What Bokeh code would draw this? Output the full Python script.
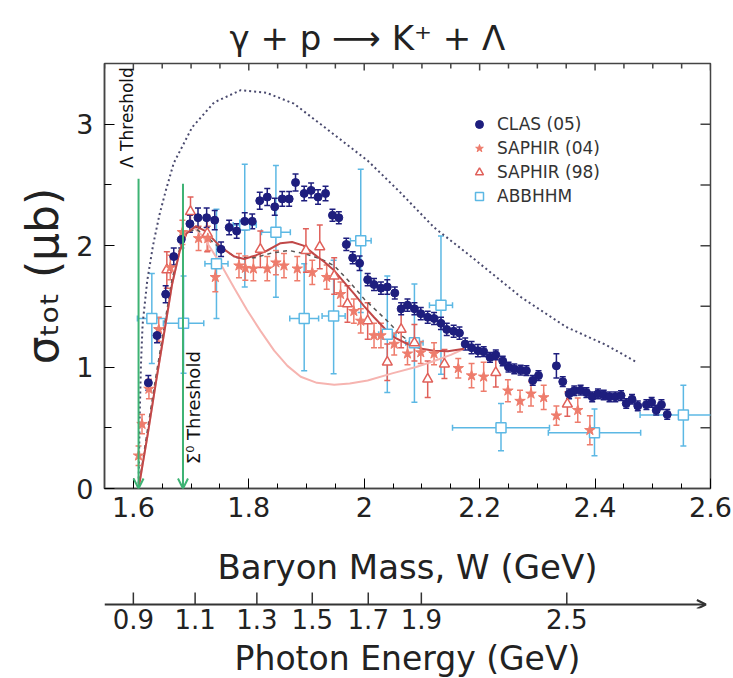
import numpy as np
from bokeh.plotting import figure
from bokeh.layouts import column
from bokeh.models import (Range1d, FixedTicker, ColumnDataSource, Whisker, TeeHead, Arrow, OpenHead)
from bokeh.embed import file_html
from bokeh.resources import INLINE
from bokeh.core.properties import value

FONT = "DejaVu Sans"
TXT = "#222222"

# ---------------- data ----------------
# CLAS (05)
clas_w = [1.626, 1.641, 1.656, 1.670, 1.683, 1.698, 1.712, 1.727, 1.741, 1.752, 1.766, 1.779, 1.793, 1.806,
          1.819, 1.832, 1.845, 1.858, 1.870, 1.881, 1.896, 1.908, 1.920, 1.933, 1.945, 1.956, 1.969, 1.980,
          1.992, 2.006, 2.017, 2.029, 2.040, 2.053, 2.064, 2.075, 2.087, 2.098, 2.110, 2.121, 2.133, 2.143,
          2.155, 2.165, 2.175, 2.186, 2.197, 2.207, 2.218, 2.228, 2.240, 2.250, 2.260, 2.271, 2.281, 2.292,
          2.302, 2.333, 2.344, 2.355, 2.364, 2.375, 2.385, 2.395, 2.405, 2.415, 2.425, 2.435, 2.445, 2.454,
          2.464, 2.474, 2.489, 2.498, 2.506, 2.515, 2.525]
clas_s = [0.87, 1.26, 1.60, 1.91, 2.05, 2.18, 2.23, 2.23, 2.21, 1.97, 2.15, 2.12, 2.20, 2.20,
          2.37, 2.40, 2.32, 2.385, 2.385, 2.52, 2.43, 2.455, 2.40, 2.43, 2.25, 2.23, 2.01, 1.90,
          1.855, 1.72, 1.68, 1.65, 1.66, 1.61, 1.48, 1.51, 1.48, 1.44, 1.41, 1.40, 1.36, 1.31,
          1.295, 1.28, 1.19, 1.16, 1.135, 1.127, 1.08, 1.10, 1.05, 1.00, 0.985, 0.975, 0.97, 0.89,
          0.93, 1.01, 0.88, 0.78, 0.805, 0.81, 0.79, 0.755, 0.78, 0.77, 0.755, 0.755, 0.765, 0.70,
          0.735, 0.68, 0.69, 0.71, 0.645, 0.69, 0.61]
clas_e = [0.06, 0.06, 0.07, 0.07, 0.07, 0.07, 0.08, 0.08, 0.08, 0.06, 0.06, 0.06, 0.07, 0.06,
          0.07, 0.07, 0.07, 0.06, 0.06, 0.07, 0.06, 0.06, 0.06, 0.06, 0.05, 0.05, 0.05, 0.05,
          0.06, 0.05, 0.05, 0.05, 0.06, 0.05, 0.05, 0.05, 0.05, 0.05, 0.05, 0.05, 0.05, 0.05,
          0.05, 0.05, 0.05, 0.05, 0.05, 0.04, 0.04, 0.04, 0.04, 0.04, 0.04, 0.04, 0.04, 0.04,
          0.04, 0.10, 0.04, 0.04, 0.04, 0.04, 0.04, 0.04, 0.04, 0.04, 0.04, 0.04, 0.04, 0.04,
          0.04, 0.04, 0.04, 0.04, 0.04, 0.04, 0.04]

# SAPHIR (04)
s04_w = [1.609, 1.615, 1.627, 1.644, 1.664, 1.685, 1.713, 1.729, 1.742, 1.783, 1.794, 1.808, 1.832, 1.847,
         1.861, 1.884, 1.910, 1.935, 1.959, 1.982, 1.994, 2.017, 2.029, 2.052, 2.075, 2.098, 2.121, 2.163,
         2.186, 2.207, 2.249, 2.270, 2.289, 2.311, 2.333, 2.370, 2.391]
s04_s = [0.27, 0.53, 0.82, 1.31, 1.82, 2.11, 2.06, 2.06, 1.74, 1.835, 1.815, 1.81, 1.81, 1.86,
         1.835, 1.81, 1.78, 1.74, 1.60, 1.46, 1.38, 1.26, 1.26, 1.19, 1.11, 1.12, 1.11, 0.99,
         0.93, 0.92, 0.805, 0.72, 0.78, 0.75, 0.60, 0.645, 0.48]
s04_e = [0.08, 0.08, 0.08, 0.10, 0.10, 0.10, 0.10, 0.10, 0.12, 0.10, 0.10, 0.10, 0.10, 0.10,
         0.10, 0.10, 0.10, 0.10, 0.10, 0.10, 0.10, 0.10, 0.10, 0.09, 0.09, 0.09, 0.09, 0.08,
         0.10, 0.12, 0.09, 0.09, 0.10, 0.10, 0.08, 0.10, 0.12]

# SAPHIR (98)
s98_w = [1.658, 1.699, 1.728, 1.820, 1.899, 1.923, 1.948, 1.971, 2.006, 2.040, 2.064, 2.087, 2.110,
         2.139, 2.228, 2.352]
s98_s = [1.80, 2.28, 2.10, 1.97, 1.96, 1.99, 1.75, 1.52, 1.38, 1.04, 1.31, 1.20, 0.90, 1.025, 0.955, 0.695]
s98_e = [0.15, 0.12, 0.15, 0.15, 0.18, 0.18, 0.15, 0.15, 0.15, 0.15, 0.15, 0.15, 0.15, 0.12, 0.12, 0.10]

# ABBHHM
ab_w = [1.632, 1.687, 1.744, 1.793, 1.847, 1.896, 1.947, 1.994, 2.040, 2.087, 2.133, 2.237, 2.399, 2.553]
ab_s = [1.40, 1.36, 1.85, 2.17, 2.11, 1.40, 1.42, 2.04, 1.27, 1.20, 1.51, 0.50, 0.46, 0.605]
ab_we = [0.025, 0.035, 0.02, 0.02, 0.025, 0.025, 0.02, 0.018, 0.015, 0.015, 0.02, 0.084, 0.08, 0.075]
ab_lo = [1.03, 0.95, 1.40, 1.66, 1.575, 0.97, 0.945, 1.45, 0.79, 0.71, 0.94, 0.31, 0.27, 0.35]
ab_hi = [1.77, 1.75, 2.30, 2.67, 2.66, 1.85, 1.88, 2.63, 1.75, 1.685, 2.08, 0.70, 0.655, 0.85]

# model curves
dot_w = [1.609, 1.611, 1.613, 1.616, 1.624, 1.634, 1.645, 1.656, 1.670, 1.702, 1.740, 1.786, 1.830, 1.878,
         1.930, 2.006, 2.060, 2.121, 2.180, 2.237, 2.272, 2.350, 2.420, 2.472]
dot_s = [0.0, 0.6, 1.0, 1.35, 1.71, 2.0, 2.25, 2.45, 2.68, 2.976, 3.18, 3.28, 3.26, 3.17,
         2.98, 2.70, 2.45, 2.15, 1.93, 1.71, 1.575, 1.33, 1.18, 1.04]

red_w = [1.609, 1.625, 1.640, 1.655, 1.667, 1.680, 1.692, 1.708, 1.725, 1.751, 1.775, 1.792, 1.812, 1.832,
         1.855, 1.875, 1.895, 1.913, 1.930, 1.948, 1.965, 1.983, 2.000, 2.017, 2.035, 2.052, 2.075, 2.100,
         2.121, 2.145, 2.173]
red_s = [0.0, 0.45, 0.90, 1.33, 1.68, 1.95, 2.10, 2.16, 2.12, 1.99, 1.91, 1.89, 1.92, 1.96,
         2.02, 2.03, 2.00, 1.93, 1.87, 1.795, 1.70, 1.60, 1.50, 1.41, 1.32, 1.245, 1.19, 1.15,
         1.135, 1.13, 1.15]

pink_w = [1.609, 1.625, 1.640, 1.655, 1.667, 1.680, 1.692, 1.705, 1.720, 1.735, 1.751, 1.775, 1.797, 1.820,
          1.844, 1.867, 1.890, 1.918, 1.948, 1.975, 2.006, 2.050, 2.090, 2.121, 2.150, 2.173]
pink_s = [0.0, 0.45, 0.90, 1.33, 1.68, 1.95, 2.10, 2.15, 2.08, 1.97, 1.85, 1.65, 1.47, 1.30,
          1.135, 1.01, 0.92, 0.87, 0.855, 0.865, 0.89, 0.95, 1.00, 1.05, 1.10, 1.15]

dash_w = [1.609, 1.625, 1.640, 1.655, 1.667, 1.680, 1.692, 1.708, 1.725, 1.750, 1.780, 1.810, 1.840, 1.870,
          1.900, 1.925, 1.948, 1.975, 2.000, 2.020, 2.040, 2.064, 2.085]
dash_s = [0.0, 0.50, 0.95, 1.38, 1.72, 1.97, 2.10, 2.14, 2.08, 1.98, 1.90, 1.90, 1.94, 1.96,
          1.93, 1.89, 1.835, 1.70, 1.56, 1.47, 1.38, 1.26, 1.19]

# thresholds
thr_w = [1.609, 1.686]
thr_top = [2.55, 2.51]
thr_label = ["Λ Threshold", "Σ⁰ Threshold"]
thr_label_w = [1.5895, 1.705]
thr_label_s = [2.64, 0.20]
thr_label_size = ["17px", "18px"]

# axes
x_ticks = [1.6, 1.8, 2.0, 2.2, 2.4, 2.6]
x_labels = ["1.6", "1.8", "2", "2.2", "2.4", "2.6"]
x_minor = [1.55, 1.65, 1.7, 1.75, 1.85, 1.9, 1.95, 2.05, 2.1, 2.15, 2.25, 2.3, 2.35, 2.45, 2.5, 2.55]
y_ticks = [0, 1, 2, 3]
y_minor = [0.5, 1.5, 2.5]
y_all = [0.5, 1, 1.5, 2, 2.5, 3]
photon_w = [1.600, 1.707, 1.814, 1.910, 2.007, 2.099, 2.351]
photon_labels = ["0.9", "1.1", "1.3", "1.5", "1.7", "1.9", "2.5"]

# ---------------- main figure ----------------
p = figure(frame_width=606, frame_height=425, min_border_left=104, min_border_right=23,
           min_border_top=63, min_border_bottom=100,
           x_range=Range1d(1.55, 2.6), y_range=Range1d(0, 3.5),
           output_backend="svg", toolbar_location=None)
p.grid.visible = False
p.outline_line_color = "#444444"
p.outline_line_width = 1.5
p.background_fill_color = "white"
p.border_fill_color = "white"

p.title.text = "γ + p ⟶ K⁺ + Λ"
p.title.text_font = FONT
p.title.text_font_size = "34px"
p.title.text_font_style = "normal"
p.title.text_color = TXT
p.title.align = "left"
p.title.offset = 125
p.title.standoff = 12

xa = p.xaxis[0]
xa.ticker = FixedTicker(ticks=x_ticks, minor_ticks=x_minor)
xa.major_label_overrides = dict(zip(x_ticks, x_labels))
xa.major_tick_in, xa.major_tick_out = 10, 0
xa.minor_tick_in, xa.minor_tick_out = 5, 0
xa.major_label_text_font = FONT
xa.major_label_text_font_size = "27px"
xa.major_label_text_color = TXT
xa.major_label_standoff = 8
xa.axis_line_color = "#444444"
xa.axis_line_width = 1.5
xa.axis_label = "Baryon Mass, W (GeV)"
xa.axis_label_text_font = FONT
xa.axis_label_text_font_size = "34px"
xa.axis_label_text_font_style = "normal"
xa.axis_label_text_color = TXT
xa.axis_label_standoff = 27

ya = p.yaxis[0]
ya.ticker = FixedTicker(ticks=y_ticks, minor_ticks=y_minor)
ya.major_tick_in, ya.major_tick_out = 10, 0
ya.minor_tick_in, ya.minor_tick_out = 7, 0
ya.major_label_text_font = FONT
ya.major_label_text_font_size = "27px"
ya.major_label_text_color = TXT
ya.major_label_standoff = 11
ya.axis_line_color = "#444444"
ya.axis_line_width = 1.5
ya.axis_label = "σₜₒₜ (μb)"
ya.axis_label_text_font = FONT
ya.axis_label_text_font_size = "44px"
ya.axis_label_text_font_style = "normal"
ya.axis_label_text_color = TXT
ya.axis_label_standoff = 5

# mirrored tick marks on the top and right frame edges
p.ray(x=x_ticks, y=[3.5] * len(x_ticks), length=7, length_units="screen", angle=-np.pi / 2,
      line_color="#444444", line_width=1.5)
p.ray(x=x_minor, y=[3.5] * len(x_minor), length=5, length_units="screen", angle=-np.pi / 2,
      line_color="#444444", line_width=1.5)
p.ray(x=[2.6] * len(y_all), y=y_all, length=10, length_units="screen", angle=np.pi,
      line_color="#444444", line_width=1.5)

# ---------------- curves ----------------
p.line(pink_w, pink_s, line_color="#f6b4b0", line_width=2)
p.line(dot_w, dot_s, line_color="#4a4a6e", line_width=2, line_dash="2 3")
p.line(dash_w, dash_s, line_color="#555555", line_width=1.5, line_dash="4 4")
p.line(red_w, red_s, line_color="#c04848", line_width=2)

# thresholds
GREEN = "#3db374"
thr_src = ColumnDataSource(dict(w=thr_w, top=thr_top, bot=[0.0, 0.0]))
p.add_layout(Arrow(x_start="w", y_start="top", x_end="w", y_end="bot", source=thr_src,
                   line_color=GREEN, line_width=2,
                   end=OpenHead(size=10, line_color=GREEN, line_width=2)))
p.text(x=thr_label_w, y=thr_label_s, text=thr_label, angle=np.pi / 2, text_font=value(FONT),
       text_font_size=thr_label_size, text_align="left", text_baseline="middle", text_color="#111111")

# ---------------- data points ----------------
def vbars(w, lo, hi, color, size=6):
    src = ColumnDataSource(dict(x=w, lo=lo, hi=hi))
    wk = Whisker(source=src, base="x", lower="lo", upper="hi", line_color=color, line_width=1.5,
                 upper_head=TeeHead(size=size, line_color=color, line_width=1.5),
                 lower_head=TeeHead(size=size, line_color=color, line_width=1.5), level="underlay")
    p.add_layout(wk)

def hbars(y, lo, hi, color, size=6):
    src = ColumnDataSource(dict(y=y, lo=lo, hi=hi))
    wk = Whisker(source=src, base="y", lower="lo", upper="hi", dimension="width", line_color=color,
                 line_width=1.5,
                 upper_head=TeeHead(size=size, line_color=color, line_width=1.5),
                 lower_head=TeeHead(size=size, line_color=color, line_width=1.5), level="underlay")
    p.add_layout(wk)

AB = "#5cb8e4"
S98 = "#e0605a"
S04 = "#ee7c6c"
CL = "#1e1e7e"

vbars(ab_w, ab_lo, ab_hi, AB)
hbars(ab_s, [w - e for w, e in zip(ab_w, ab_we)], [w + e for w, e in zip(ab_w, ab_we)], AB)
vbars(s98_w, [s - e for s, e in zip(s98_s, s98_e)], [s + e for s, e in zip(s98_s, s98_e)], S98)
vbars(s04_w, [s - e for s, e in zip(s04_s, s04_e)], [s + e for s, e in zip(s04_s, s04_e)], S04)
vbars(clas_w, [s - e for s, e in zip(clas_s, clas_e)], [s + e for s, e in zip(clas_s, clas_e)], CL)

p.scatter(ab_w, ab_s, marker="square", size=10, line_color=AB, fill_color="white", line_width=1.5,
          legend_label="ABBHHM")
p.scatter(s98_w, s98_s, marker="triangle", size=10, line_color=S98, fill_color="white", line_width=1.5,
          legend_label="SAPHIR (98)")
p.scatter(s04_w, s04_s, marker="star", size=11, line_color=S04, fill_color=S04, line_width=1,
          legend_label="SAPHIR (04)")
p.scatter(clas_w, clas_s, marker="circle", size=8, line_color=CL, fill_color=CL,
          legend_label="CLAS (05)")

leg = p.legend[0]
leg.items = [leg.items[3], leg.items[2], leg.items[1], leg.items[0]]
leg.location = (355, 272)
leg.glyph_width = 20
leg.glyph_height = 20
leg.label_height = 20
leg.spacing = 4
leg.padding = 10
leg.margin = 0
leg.label_standoff = 8
leg.label_text_font = FONT
leg.label_text_font_size = "17px"
leg.label_text_color = "#333333"
leg.background_fill_alpha = 0
leg.border_line_alpha = 0

# ---------------- photon-energy axis strip ----------------
ph_line_y = 0.21
ph_tick_top = 0.84
p2 = figure(frame_width=606, frame_height=19, min_border_left=104, min_border_right=23,
            min_border_top=0, min_border_bottom=71, x_range=p.x_range, y_range=Range1d(0, 1),
            y_axis_location=None, output_backend="svg", toolbar_location=None)
p2.grid.visible = False
p2.outline_line_color = None
p2.background_fill_color = "white"
p2.border_fill_color = "white"
p2.add_layout(Arrow(x_start=1.55, y_start=ph_line_y, x_end=2.592, y_end=ph_line_y,
                    line_color="#333333", line_width=2,
                    end=OpenHead(size=9, line_color="#333333", line_width=2)))
p2.segment(x0=photon_w, y0=[ph_line_y] * len(photon_w), x1=photon_w, y1=[ph_tick_top] * len(photon_w),
           line_color="#333333", line_width=1.5)
xb = p2.xaxis[0]
xb.ticker = FixedTicker(ticks=photon_w, minor_ticks=[])
xb.major_label_overrides = dict(zip(photon_w, photon_labels))
xb.axis_line_color = None
xb.major_tick_line_color = None
xb.minor_tick_line_color = None
xb.major_tick_in, xb.major_tick_out = 0, 0
xb.major_label_standoff = 0
xb.major_label_text_font = FONT
xb.major_label_text_font_size = "26px"
xb.major_label_text_color = TXT
xb.axis_label = "Photon Energy (GeV)"
xb.axis_label_text_font = FONT
xb.axis_label_text_font_size = "33px"
xb.axis_label_text_font_style = "normal"
xb.axis_label_text_color = TXT
xb.axis_label_standoff = 7

layout = column(p, p2, spacing=0)
open("out.html", "w").write(file_html(layout, INLINE))
